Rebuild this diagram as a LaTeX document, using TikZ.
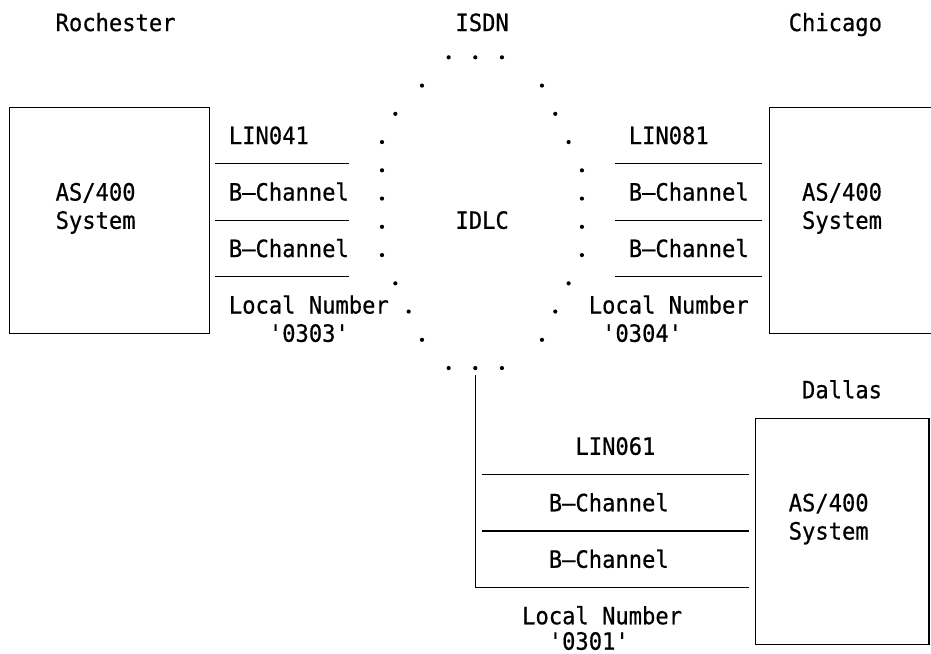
\documentclass[tikz,border=0pt]{standalone}
\usepackage{fontspec}
\setmonofont[FakeStretch=0.93,FakeBold=0.6]{DejaVu Sans Mono}
\usepackage{tikz}

\tikzset{
  lbl/.style={anchor=base west, inner sep=0pt, font=\ttfamily\fontsize{23.8pt}{28.25pt}\selectfont},
  wire/.style={line width=1.1pt},
  sysbox/.style={draw, line width=1.1pt, anchor=north west, inner sep=0pt, minimum height=226pt}
}

\begin{document}
\begin{tikzpicture}[x=13.33pt, y=-28.25pt]
  \useasboundingbox (-0.16,-1.1) rectangle (69.69,22.05);
  % sites
  \node[lbl] (roch) at (4,0) {Rochester};
  \node[lbl] (isdn) at (34,0) {ISDN};
  \node[lbl] (chic) at (59,0) {Chicago};
  \node[lbl] (dall) at (60,13) {Dallas};
  % systems
  \node[sysbox, minimum width=200pt] (rochbox) at (0.5,2.7) {};
  \node[sysbox, minimum width=200pt] (chicbox) at (57.5,2.7) {};
  \node[sysbox, minimum width=173.3pt] (dallbox) at (56.5,13.7) {};
  \foreach \n/\x/\y in {rs/4/6,cs/60/6,ds/59/17} {
    \node[lbl] (\n a) at (\x,\y) {AS/400};
    \node[lbl] (\n b) at (\x,\y+1) {System};
  }
  % ISDN cloud
  \foreach \c/\r in {33/1,35/1,37/1,31/2,40/2,29/3,41/3,28/4,42/4,
                     28/5,43/5,28/6,43/6,28/7,43/7,28/8,43/8,
                     29/9,42/9,30/10,41/10,31/11,40/11,33/12,35/12,37/12} {
    \fill (\c+0.5,\r-0.07) circle (2.1pt);
  }
  \node[lbl] (idlc) at (34,7) {IDLC};
  % lines
  \foreach \s/\x/\e/\w/\y in {rl/16/26/17/4,cl/46/57/47/4,dl/36/56/41/15} {
    \foreach \i in {0,1,2} {
      \coordinate (\s w\i) at (\x,\y+0.7+2*\i);
      \coordinate (\s e\i) at (\e,\y+0.7+2*\i);
    }
    \draw[wire] (\s w0) -- (\s e0);
    \draw[wire] (\s w1) -- (\s e1);
  }
  \draw[wire] (rlw2) -- (rle2);
  \draw[wire] (clw2) -- (cle2);
  \coordinate (dtop) at (35.5,12.18);
  \coordinate (dcorner) at (35.5,19.7);
  \draw[wire] (dtop) -- (dcorner) -- (dle2);
  \node[lbl] (rlin) at (17,4) {LIN041};
  \node[lbl] (rb1) at (17,6) {B—Channel};
  \node[lbl] (rb2) at (17,8) {B—Channel};
  \node[lbl] (rnum) at (17,10) {Local Number};
  \node[lbl] (rnumv) at (20,11) {'0303'};
  \node[lbl] (clin) at (47,4) {LIN081};
  \node[lbl] (cb1) at (47,6) {B—Channel};
  \node[lbl] (cb2) at (47,8) {B—Channel};
  \node[lbl] (cnum) at (44,10) {Local Number};
  \node[lbl] (cnumv) at (45,11) {'0304'};
  \node[lbl] (dlin) at (43,15) {LIN061};
  \node[lbl] (db1) at (41,17) {B—Channel};
  \node[lbl] (db2) at (41,19) {B—Channel};
  \node[lbl] (dnum) at (39,21) {Local Number};
  \node[lbl] (dnumv) at (41,21.9) {'0301'};
\end{tikzpicture}
\end{document}
